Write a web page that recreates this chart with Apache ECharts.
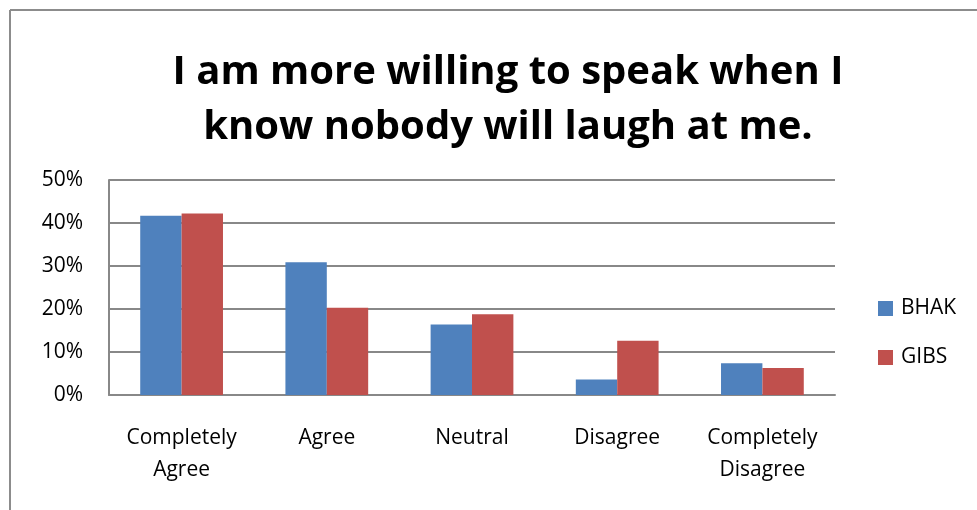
<!DOCTYPE html>
<html>
<head>
<meta charset="utf-8">
<script src="https://cdn.jsdelivr.net/npm/echarts@6/dist/echarts.min.js"></script>
<style>
  html, body { margin: 0; padding: 0; background: #fff; }
  #chart { width: 977px; height: 510px; }
</style>
</head>
<body>
<div id="chart"></div>
<script>
// Survey answers, share of respondents per school
const categories = ['Completely\nAgree', 'Agree', 'Neutral', 'Disagree', 'Completely\nDisagree'];
const bhak = [0.417, 0.309, 0.164, 0.036, 0.074];
const gibs = [0.422, 0.203, 0.188, 0.126, 0.063];
const yTicks = { min: 0, max: 0.5, interval: 0.1 };

const FONT = '"Open Sans", "Noto Sans", sans-serif';
const GREY = '#888888';

const chart = echarts.init(document.getElementById('chart'), null, { renderer: 'canvas' });

chart.setOption({
  backgroundColor: '#ffffff',
  animation: false,
  title: {
    text: 'I am more willing to speak when I\nknow nobody will laugh at me.',
    left: 503,
    textAlign: 'center',
    top: 40,
    textStyle: {
      fontFamily: FONT,
      fontWeight: 'bold',
      fontSize: 40,
      lineHeight: 55,
      color: '#000000'
    }
  },
  legend: {
    orient: 'vertical',
    left: 873,
    top: 293,
    icon: 'rect',
    itemWidth: 15,
    itemHeight: 15,
    itemGap: 28,
    textStyle: { fontFamily: FONT, fontSize: 21, lineHeight: 20, color: '#000', padding: [0, 0, 0, 3] },
    data: ['BHAK', 'GIBS']
  },
  grid: { left: 109, right: 142, top: 180, bottom: 115, containLabel: false },
  xAxis: {
    type: 'category',
    data: categories,
    axisLine: { show: true, lineStyle: { color: GREY, width: 2 } },
    axisTick: { show: false },
    axisLabel: {
      interval: 0,
      margin: 27,
      fontFamily: FONT,
      fontSize: 21,
      lineHeight: 32,
      verticalAlign: 'top',
      color: '#000'
    }
  },
  yAxis: {
    type: 'value',
    min: yTicks.min,
    max: yTicks.max,
    interval: yTicks.interval,
    axisLine: { show: true, lineStyle: { color: GREY, width: 2 } },
    axisTick: { show: false },
    splitLine: { show: true, lineStyle: { color: GREY, width: 2 } },
    axisLabel: {
      margin: 26,
      fontFamily: FONT,
      fontSize: 21,
      color: '#000',
      formatter: v => Math.round(v * 100) + '%'
    }
  },
  series: [
    {
      name: 'BHAK',
      type: 'bar',
      data: bhak,
      barGap: '0%',
      barCategoryGap: '43%',
      itemStyle: { color: '#4F81BD' }
    },
    {
      name: 'GIBS',
      type: 'bar',
      data: gibs,
      barGap: '0%',
      barCategoryGap: '43%',
      itemStyle: { color: '#C0504D' }
    }
  ],
  graphic: [
    // chart frame: top and left edges
    { type: 'line', shape: { x1: 10, y1: 10, x2: 977, y2: 10 }, style: { stroke: '#8c8c8c', lineWidth: 2 } },
    { type: 'line', shape: { x1: 10, y1: 10, x2: 10, y2: 510 }, style: { stroke: '#8c8c8c', lineWidth: 2 } }
  ]
});
</script>
</body>
</html>
